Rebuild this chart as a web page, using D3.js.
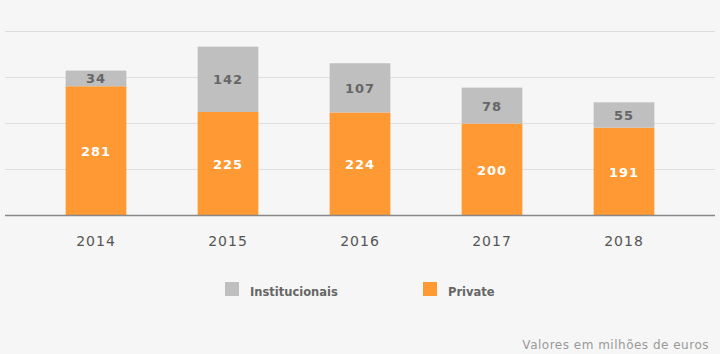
<!doctype html>
<html>
<head>
<script src="https://d3js.org/d3.v7.min.js"></script>
<style>
  body { margin: 0; background: #f6f6f6; }
  text { font-family: "DejaVu Sans", Verdana, sans-serif; }
</style>
</head>
<body>
<svg width="720" height="354"></svg>
<script>
  // data
  var years = ["2014", "2015", "2016", "2017", "2018"];
  var privateVals = [281, 225, 224, 200, 191];
  var instVals = [34, 142, 107, 78, 55];
  var gridTicks = [100, 200, 300, 400];

  var orange = "#ff9933", grey = "#bfbfbf";

  var svg = d3.select("svg");
  svg.append("rect").attr("width", 720).attr("height", 354).attr("fill", "#f6f6f6");

  var x = d3.scaleBand().domain(years).range([30, 690])
      .paddingInner(0.54).paddingOuter(0.27);
  var y = d3.scaleLinear().domain([0, 400]).range([215.5, 31.5]);

  // gridlines
  svg.append("g").selectAll("line")
    .data(gridTicks).enter().append("line")
    .attr("x1", 5).attr("x2", 715)
    .attr("y1", function (d) { return y(d); })
    .attr("y2", function (d) { return y(d); })
    .attr("stroke", "#dedede").attr("stroke-width", 1);

  var rows = years.map(function (yr, i) {
    return { year: yr, p: privateVals[i], inst: instVals[i] };
  });

  // private bars
  svg.append("g").selectAll("rect")
    .data(rows).enter().append("rect")
    .attr("x", function (d) { return x(d.year); })
    .attr("width", x.bandwidth())
    .attr("y", function (d) { return y(d.p); })
    .attr("height", function (d) { return y(0) - y(d.p); })
    .attr("fill", orange);

  // institucionais bars
  svg.append("g").selectAll("rect")
    .data(rows).enter().append("rect")
    .attr("x", function (d) { return x(d.year); })
    .attr("width", x.bandwidth())
    .attr("y", function (d) { return y(d.p + d.inst); })
    .attr("height", function (d) { return y(d.p) - y(d.p + d.inst); })
    .attr("fill", grey);

  // baseline
  svg.append("line")
    .attr("x1", 5).attr("x2", 715)
    .attr("y1", y(0)).attr("y2", y(0))
    .attr("stroke", "#888").attr("stroke-width", 1.5);

  // value labels
  svg.append("g").selectAll("text")
    .data(rows).enter().append("text")
    .attr("x", function (d) { return x(d.year) + x.bandwidth() / 2; })
    .attr("y", function (d) { return (y(0) + y(d.p)) / 2 + 5; })
    .attr("text-anchor", "middle")
    .style("font-size", "13px").style("font-weight", "bold")
    .style("letter-spacing", "1px")
    .attr("fill", "#fff")
    .text(function (d) { return d.p; });

  svg.append("g").selectAll("text")
    .data(rows).enter().append("text")
    .attr("x", function (d) { return x(d.year) + x.bandwidth() / 2; })
    .attr("y", function (d) { return (y(d.p) + y(d.p + d.inst)) / 2 + 5; })
    .attr("text-anchor", "middle")
    .style("font-size", "13px").style("font-weight", "bold")
    .style("letter-spacing", "1px")
    .attr("fill", "#666")
    .text(function (d) { return d.inst; });

  // x axis labels
  svg.append("g").selectAll("text")
    .data(years).enter().append("text")
    .attr("x", function (d) { return x(d) + x.bandwidth() / 2; })
    .attr("y", 246)
    .attr("text-anchor", "middle")
    .style("font-size", "14px")
    .style("letter-spacing", "1px")
    .attr("fill", "#555")
    .text(function (d) { return d; });

  // legend
  var legend = [
    { name: "Institucionais", color: grey, x: 225 },
    { name: "Private", color: orange, x: 423 }
  ];
  var lg = svg.append("g").selectAll("g").data(legend).enter().append("g");
  lg.append("rect")
    .attr("x", function (d) { return d.x; }).attr("y", 282)
    .attr("width", 14).attr("height", 14)
    .attr("fill", function (d) { return d.color; });
  lg.append("text")
    .attr("x", function (d) { return d.x + 25; }).attr("y", 296)
    .style("font-size", "11.5px").style("font-weight", "bold")
    .attr("fill", "#666")
    .text(function (d) { return d.name; });

  // footnote
  svg.append("text")
    .attr("x", 709).attr("y", 349)
    .attr("text-anchor", "end")
    .style("font-size", "12px")
    .style("letter-spacing", "0.5px")
    .attr("fill", "#999")
    .text("Valores em milhões de euros");
</script>
</body>
</html>
